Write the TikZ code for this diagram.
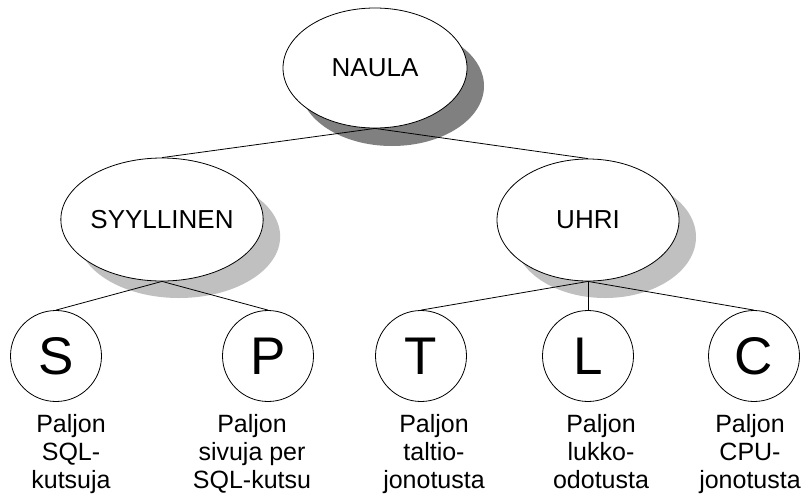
\documentclass[tikz,border=0pt]{standalone}
\usepackage{fontspec}
\setmainfont{Liberation Sans}
\usetikzlibrary{shapes.geometric,shadows}
\definecolor{shdark}{HTML}{808080}
\definecolor{shlight}{HTML}{C0C0C0}
\begin{document}
\begin{tikzpicture}[x=1pt,y=-1pt,
  oval/.style={ellipse,draw=black,fill=white,line width=0.8pt,inner sep=0pt,
    font=\fontsize{26}{30}\selectfont},
  darkshadow/.style={drop shadow={shadow xshift=17pt,shadow yshift=-18pt,fill=shdark,opacity=1}},
  lightshadow/.style={drop shadow={shadow xshift=17pt,shadow yshift=-17pt,fill=shlight,opacity=1}},
  letter/.style={circle,draw=black,fill=white,line width=0.8pt,inner sep=0pt,minimum size=91pt,
    font=\fontsize{53}{60}\selectfont},
  caption/.style={anchor=north,align=center,inner sep=0pt,font=\fontsize{25}{28.3}\selectfont},
  conn/.style={draw=black,line width=0.8pt}
]
\useasboundingbox (0,0) rectangle (810,499);

\node[oval,darkshadow,minimum width=184pt,minimum height=120pt] (naula) at (375,68) {NAULA};
\node[oval,lightshadow,minimum width=182pt,minimum height=123pt] (syy) at (162,219.5) {SYYLLINEN};
\node[oval,lightshadow,minimum width=182pt,minimum height=122pt] (uhri) at (588,220) {UHRI};

\node[letter] (s) at (56,356) {S};
\node[letter] (p) at (268,356) {P};
\node[letter] (t) at (421,356) {T};
\node[letter] (l) at (588,356) {L};
\node[letter] (c) at (754,356) {C};

\draw[conn] (naula.south) -- (syy.north);
\draw[conn] (naula.south) -- (uhri.north);
\draw[conn] (syy.south) -- (s.north);
\draw[conn] (syy.south) -- (p.north);
\draw[conn] (uhri.south) -- (t.north);
\draw[conn] (uhri.south) -- (l.north);
\draw[conn] (uhri.south) -- (c.north);

\node[caption] (ls) at (71,413.8) {Paljon\\SQL-\\kutsuja};
\node[caption] (lp) at (252,413.8) {Paljon\\sivuja per\\SQL-kutsu};
\node[caption] (lt) at (434,413.8) {Paljon\\taltio-\\jonotusta};
\node[caption] (ll) at (601,413.8) {Paljon\\lukko-\\odotusta};
\node[caption] (lc) at (750,413.8) {Paljon\\CPU-\\jonotusta};
\end{tikzpicture}
\end{document}
